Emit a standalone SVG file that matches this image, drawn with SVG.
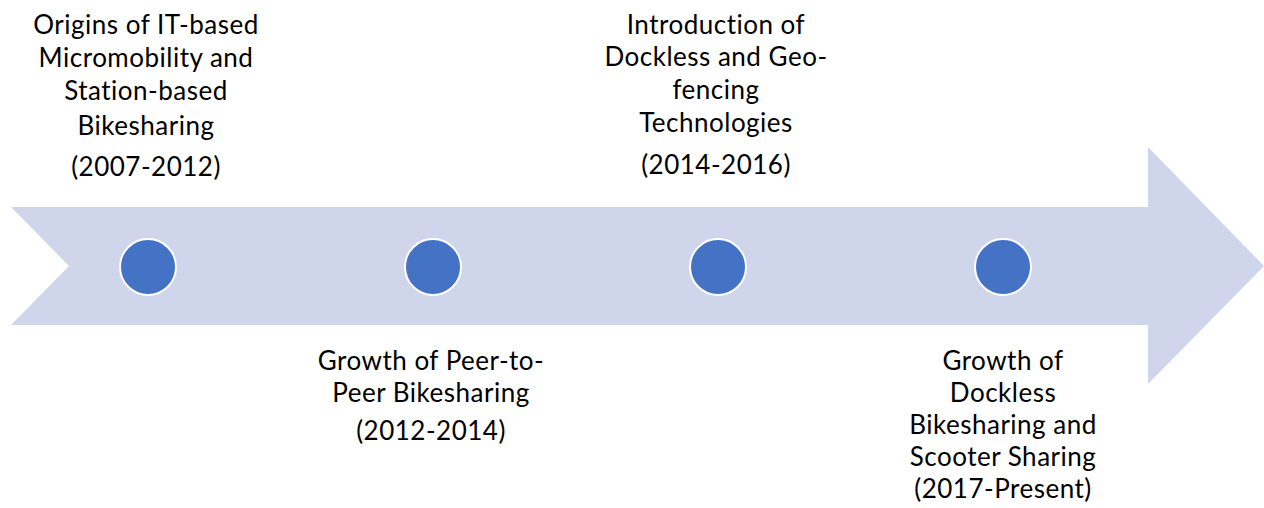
<svg xmlns="http://www.w3.org/2000/svg" width="1264" height="508" viewBox="0 0 1264 508">
<style>
.lbl{font-family:Lato,"Liberation Sans",sans-serif;font-size:26px;letter-spacing:0.5px;fill:#000;text-anchor:middle}
.dot{fill:#4472C4;stroke:#FFFFFF;stroke-width:2}
.band{fill:#CFD5EA}
</style>
<rect width="1264" height="508" fill="#FFFFFF"/>
<g id="arrow">
<polygon class="band" points="11,207 1148,207 1148,147 1264,266 1148,384 1148,325 11,325 69,266"/>
</g>
<g id="connectors"></g>
<g id="node1">
<circle class="dot" cx="148" cy="267" r="28"/>
<text class="lbl"><tspan x="146" y="34">Origins of IT-based</tspan><tspan x="146" y="67">Micromobility and</tspan><tspan x="146" y="100">Station-based</tspan><tspan x="146" y="135">Bikesharing</tspan><tspan x="146" y="176">(2007-2012)</tspan></text>
</g>
<g id="node2">
<circle class="dot" cx="433" cy="267" r="28"/>
<text class="lbl"><tspan x="431" y="370">Growth of Peer-to-</tspan><tspan x="431" y="402">Peer Bikesharing</tspan><tspan x="431" y="440">(2012-2014)</tspan></text>
</g>
<g id="node3">
<circle class="dot" cx="718" cy="267" r="28"/>
<text class="lbl"><tspan x="716" y="34">Introduction of</tspan><tspan x="716" y="66">Dockless and Geo-</tspan><tspan x="716" y="99">fencing</tspan><tspan x="716" y="132">Technologies</tspan><tspan x="716" y="174">(2014-2016)</tspan></text>
</g>
<g id="node4">
<circle class="dot" cx="1003" cy="267" r="28"/>
<text class="lbl"><tspan x="1003" y="370">Growth of</tspan><tspan x="1003" y="402">Dockless</tspan><tspan x="1003" y="434">Bikesharing and</tspan><tspan x="1003" y="466">Scooter Sharing</tspan><tspan x="1003" y="498">(2017-Present)</tspan></text>
</g>
</svg>
